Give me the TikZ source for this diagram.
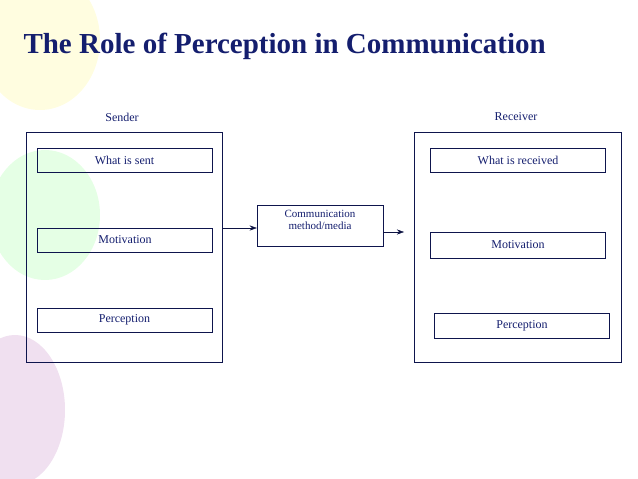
\documentclass[tikz,border=0pt]{standalone}
\usepackage{fontspec}
\setmainfont{Liberation Serif}
\usetikzlibrary{positioning,arrows.meta}
\definecolor{titleblue}{RGB}{20,30,110}
\begin{document}
\begin{tikzpicture}[
        x=1pt, y=-1pt,
        every node/.style={font=\fontsize{12}{13}\selectfont, align=center, text=titleblue},
        frame/.style={draw=titleblue!70!black, thin},
        item/.style={draw=titleblue!70!black, thin, minimum width=175pt, minimum height=24pt},
        arrow/.style={-{Stealth[length=2.5mm,width=1.8mm]}, thin, draw=titleblue!60!black}
    ]
    \useasboundingbox (0,0) rectangle (638,479);
    % Balloons
    \fill[yellow!12] (40,40) ellipse (60 and 70);
    \fill[green!10] (45,215) ellipse (55 and 65);
    \fill[violet!12] (15,410) ellipse (50 and 75);
    % Title
    \node[anchor=west, font=\bfseries\fontsize{29}{31}\selectfont, text=titleblue] (title) at (20,46) {The Role of Perception in Communication};
    % Frames
    \draw[frame] (26,132) rectangle (222,362);
    \draw[frame] (414,132) rectangle (621,362);
    \node (sender) at (122,117) {Sender};
    \node (receiver) at (516,117) {Receiver};
    % Sender items
    \node[item] (sent) at (124.5,160) {What is sent};
    \node[item] (smot) at (125,240) {Motivation};
    \node[item] (sper) at (124.5,320) {Perception};
    % Receiver items
    \node[item] (recv) at (518,160) {What is received};
    \node[item, minimum height=26pt] (rmot) at (518,245) {Motivation};
    \node[item, minimum height=25pt] (rper) at (522,325.5) {Perception};
    % Middle
    \node[draw=titleblue!70!black, thin, minimum width=126pt, minimum height=41pt,
          anchor=north] (media) at (320,205) {};
    \node[anchor=north, font=\fontsize{11}{12}\selectfont] (mtext) at (320,207) {Communication\\method/media};
    % Arrows
    \coordinate (lout) at (222,228);
    \coordinate (rin) at (404,232);
    \draw[arrow] (lout) -- (lout -| media.west);
    \draw[arrow] (media.east |- rin) -- (rin);
\end{tikzpicture}
\end{document}
